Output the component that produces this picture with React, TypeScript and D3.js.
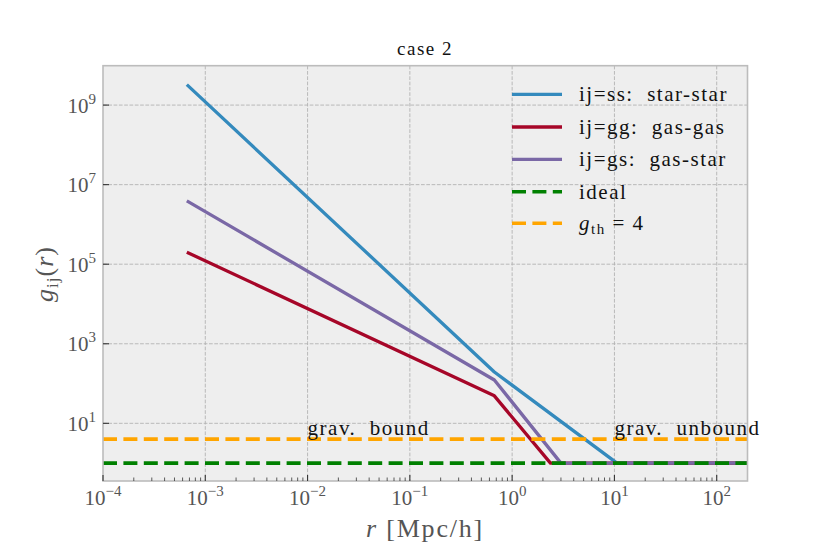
import * as d3 from 'd3'

// series: pair correlation g_ij(r), straight segments in log-log
const rStar = [6.6e-4, 0.67, 10.6, 200]
const gStar = [3.27e9, 195, 1, 1]
const rGas = [6.6e-4, 0.67, 2.37, 200]
const gGas = [2.0e5, 49, 1, 1]
const rGasStar = [6.6e-4, 0.67, 3.0, 200]
const gGasStar = [3.9e6, 123, 1, 1]

const gIdeal = 1
const gThreshold = 4

const xMajor = [-4, -3, -2, -1, 0, 1, 2]
const yMajor = [1, 3, 5, 7, 9]

const W = 830
const H = 554
const margin = { left: 103, right: 82.5, top: 65.7, bottom: 73 }

const serif = '"Liberation Serif", "DejaVu Serif", serif'
const tickGrey = '#555555'
const nb = '\u00a0'

export default function App() {
  const x = d3.scaleLog().domain([1e-4, 200]).range([margin.left, W - margin.right])
  const y = d3.scaleLog().domain([Math.pow(10, -0.45), Math.pow(10, 9.99)]).range([H - margin.bottom, margin.top])

  const [x0, x1] = x.range()
  const [y0, y1] = y.range() // y0 bottom, y1 top

  const line = d3.line<[number, number]>()
    .x(d => x(d[0]))
    .y(d => y(d[1]))

  const zip = (a: number[], b: number[]) => a.map((v, i) => [v, b[i]] as [number, number])

  const series = [
    { key: 'ss', r: rStar, g: gStar, color: '#348ABD', label: `ij=ss:${nb} star-star` },
    { key: 'gg', r: rGas, g: gGas, color: '#A60628', label: `ij=gg:${nb} gas-gas` },
    { key: 'gs', r: rGasStar, g: gGasStar, color: '#7A68A6', label: `ij=gs:${nb} gas-star` },
  ]

  // minor ticks on x
  const xMinor: number[] = []
  for (let e = -4; e <= 2; e++) {
    for (let k = 2; k <= 9; k++) {
      const v = k * Math.pow(10, e)
      if (v < 200) xMinor.push(v)
    }
  }

  const legendX = 512
  const legendTextX = 579
  const legendRows = [94.3, 127, 159.3, 191.7, 223.3]

  return (
    <div style={{ position: 'absolute', left: 0, top: 0 }}>
      <svg width={W} height={H} style={{ display: 'block', background: '#ffffff' }}>
        <defs>
          <clipPath id="plotclip">
            <rect x={x0} y={y1} width={x1 - x0} height={y0 - y1} />
          </clipPath>
        </defs>

        {/* plot background */}
        <rect x={x0} y={y1} width={x1 - x0} height={y0 - y1} fill="#eeeeee" />

        {/* grid */}
        <g stroke="#b2b2b2" strokeWidth={0.9} strokeDasharray="3.7,1.6">
          {xMajor.slice(1).map(e => (
            <line key={'gx' + e} x1={x(Math.pow(10, e))} x2={x(Math.pow(10, e))} y1={y1} y2={y0} />
          ))}
          {yMajor.map(e => (
            <line key={'gy' + e} x1={x0} x2={x1} y1={y(Math.pow(10, e))} y2={y(Math.pow(10, e))} />
          ))}
        </g>

        <g clipPath="url(#plotclip)" fill="none">
          {series.map(s => (
            <path key={s.key} d={line(zip(s.r, s.g)) || ''} stroke={s.color} strokeWidth={3.3} strokeLinejoin="round" />
          ))}
          <line x1={x0} x2={x1} y1={y(gIdeal)} y2={y(gIdeal)} stroke="#008000" strokeWidth={3.6} strokeDasharray="14,6.4" />
          <line x1={x0} x2={x1} y1={y(gThreshold)} y2={y(gThreshold)} stroke="#FFA500" strokeWidth={3.6} strokeDasharray="14,6.4" />
        </g>

        {/* annotations */}
        <g fontFamily={serif} fontSize={21} fill="#111111" letterSpacing={1.5}>
          <text x={x(1e-2)} y={435}>{`grav.${nb} bound`}</text>
          <text x={x(10)} y={435}>{`grav.${nb} unbound`}</text>
        </g>

        {/* legend */}
        <g fontFamily={serif} fontSize={21} fill="#111111" letterSpacing={1.5}>
          {series.map((s, i) => (
            <g key={'lg' + s.key}>
              <line x1={legendX} x2={legendX + 50} y1={legendRows[i]} y2={legendRows[i]} stroke={s.color} strokeWidth={3.3} />
              <text x={legendTextX} y={legendRows[i] + 7}>{s.label}</text>
            </g>
          ))}
          <line x1={legendX} x2={legendX + 50} y1={legendRows[3]} y2={legendRows[3]} stroke="#008000" strokeWidth={3.6} strokeDasharray="14,6.4" />
          <text x={legendTextX} y={legendRows[3] + 7}>ideal</text>
          <line x1={legendX} x2={legendX + 50} y1={legendRows[4]} y2={legendRows[4]} stroke="#FFA500" strokeWidth={3.6} strokeDasharray="14,6.4" />
          <text x={legendTextX} y={legendRows[4] + 7}>
            <tspan fontStyle="italic">g</tspan>
            <tspan fontSize={15} dy={4}>th</tspan>
            <tspan dy={-4}>{' = 4'}</tspan>
          </text>
        </g>

        {/* frame */}
        <rect x={x0} y={y1} width={x1 - x0} height={y0 - y1} fill="none" stroke="#bcbcbc" strokeWidth={1.6} />

        {/* ticks */}
        <g stroke="#333333">
          {xMajor.map(e => (
            <line key={'tx' + e} x1={x(Math.pow(10, e))} x2={x(Math.pow(10, e))} y1={y0} y2={y0 - 6} strokeWidth={1.1} />
          ))}
          {xMinor.map((v, i) => (
            <line key={'mx' + i} x1={x(v)} x2={x(v)} y1={y0} y2={y0 - 3.5} strokeWidth={0.8} />
          ))}
          {yMajor.map(e => (
            <line key={'ty' + e} x1={x0} x2={x0 + 6} y1={y(Math.pow(10, e))} y2={y(Math.pow(10, e))} strokeWidth={1.1} />
          ))}
        </g>

        {/* tick labels */}
        <g fontFamily={serif} fill={tickGrey} fontSize={21}>
          {xMajor.map(e => (
            <text key={'lx' + e} x={x(Math.pow(10, e))} y={505} textAnchor="middle">
              10<tspan fontSize={15} dy={-9}>{e < 0 ? '\u2212' + Math.abs(e) : String(e)}</tspan>
            </text>
          ))}
          {yMajor.map(e => (
            <text key={'ly' + e} x={96} y={y(Math.pow(10, e)) + 7.7} textAnchor="end">
              10<tspan fontSize={15} dy={-9}>{String(e)}</tspan>
            </text>
          ))}
        </g>

        {/* axis labels */}
        <text x={425} y={537} textAnchor="middle" fontFamily={serif} fontSize={26} fill={tickGrey} letterSpacing={1.8}>
          <tspan fontStyle="italic">r</tspan>
          <tspan>{' [Mpc/h]'}</tspan>
        </text>
        <text transform="translate(53,274) rotate(-90)" textAnchor="middle" fontFamily={serif} fontSize={26} fill={tickGrey} letterSpacing={1}>
          <tspan fontStyle="italic">g</tspan>
          <tspan fontSize={17} dy={5}>ij</tspan>
          <tspan dy={-5}>(</tspan>
          <tspan fontStyle="italic">r</tspan>
          <tspan>)</tspan>
        </text>

        {/* title */}
        <text x={425} y={55} textAnchor="middle" fontFamily={serif} fontSize={19} fill="#111111" letterSpacing={1.5}>case 2</text>
      </svg>
    </div>
  )
}
